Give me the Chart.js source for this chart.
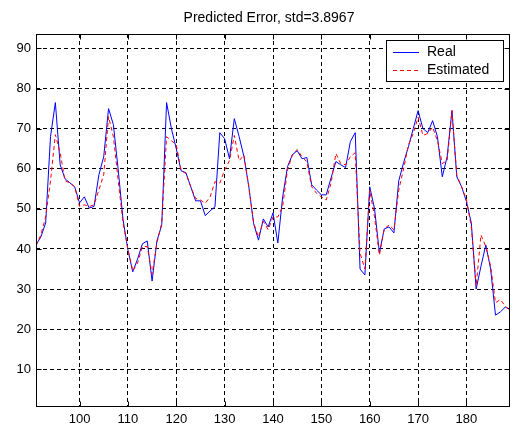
<!DOCTYPE html>
<html>
<head>
<meta charset="utf-8">
<script src="https://cdn.jsdelivr.net/npm/chart.js@4"></script>
<style>
html,body{margin:0;padding:0;background:#fff;}
canvas{display:block;}
</style>
</head>
<body>
<canvas id="c" width="516" height="426"></canvas>
<script>
const titleText = "Predicted Error, std=3.8967";
const seriesNames = ["Real", "Estimated"];
const xValues = [91,92,93,94,95,96,97,98,99,100,101,102,103,104,105,106,107,108,109,110,
111,112,113,114,115,116,117,118,119,120,121,122,123,124,125,126,127,128,129,130,
131,132,133,134,135,136,137,138,139,140,141,142,143,144,145,146,147,148,149,150,
151,152,153,154,155,156,157,158,159,160,161,162,163,164,165,166,167,168,169,170,
171,172,173,174,175,176,177,178,179,180,181,182,183,184,185,186,187,188,189];
const realValues = [41,43,46.5,68,76.5,61,57.5,56.5,55.5,51.5,53,50.2,50.6,58.5,63,75,71,59.7,47.3,39.8,
34.3,37.5,41.3,42,32,42,46,76.5,70,65,59.5,59,55.5,52,52,48.3,49.5,50.5,69,67.5,
62.5,72.5,68,63,55.5,46.3,42.2,47.5,45.5,49,41.5,53,60.5,63.5,64.5,62.5,62.8,56,54.7,53.5,
53.5,57.7,61.8,61,60.3,66.8,69,35,33.5,55.5,50,39,45,45.5,44,57,61.5,65.5,70,74.5,
70,69,72,68,58,63,74.5,58,55.5,51.8,46.5,30,35.7,41,35,23.5,24.3,25.5,25];
const estimatedValues = [40.8,43.5,48,57,68.5,64,57,56.5,55.5,50.6,51,50.6,51,54.7,58.5,73,68,57,46.5,40,
34.5,36.5,40.6,40.6,33.7,41.5,46.5,68,67,66,59.6,58.8,55.5,52.6,52.2,51.4,53,56.8,56.4,59.7,
62,68.3,62,63.4,55.5,46.5,43,46.9,44.8,48,48,50.6,59.7,63.4,64.8,63,61.7,55.5,53.9,53,
52.2,56.4,63.8,61.3,61,63,64,39,35,54.7,48,38.5,45,46,44.8,54.7,60,65.9,68.8,72.9,
68.3,68.8,70.4,67,61.3,62,74.5,58.4,55.5,52.2,45.6,30.7,43.5,40.6,35.7,26.6,27.4,25.8,24.5];
const xTicks = [100,110,120,130,140,150,160,170,180];
const yTicks = [10,20,30,40,50,60,70,80,90];
const xRange = [91, 189];
const yRange = [0.6, 93.6];

const FONT = "Liberation Sans, Arial, sans-serif";

const toPts = (ys) => xValues.map((x, i) => ({x: x, y: ys[i]}));

const matlabFrame = {
  id: 'matlabFrame',
  afterDraw(chart) {
    const ctx = chart.ctx;
    const a = chart.chartArea;
    const xs = chart.scales.x, ys = chart.scales.y;
    ctx.save();
    ctx.strokeStyle = '#000';
    ctx.lineWidth = 1;
    ctx.setLineDash([]);
    const L = Math.round(a.left) + 0.5, R = Math.round(a.right) - 0.5;
    const T = Math.round(a.top) + 0.5, B = Math.round(a.bottom) - 0.5;
    ctx.strokeRect(L, T, R - L, B - T);
    const tl = 5;
    ctx.beginPath();
    xTicks.forEach(v => {
      const px = Math.round(xs.getPixelForValue(v)) + 0.5;
      ctx.moveTo(px, B); ctx.lineTo(px, B - tl);
      ctx.moveTo(px, T); ctx.lineTo(px, T + tl);
    });
    yTicks.forEach(v => {
      const py = Math.round(ys.getPixelForValue(v)) + 0.5;
      ctx.moveTo(L, py); ctx.lineTo(L + tl, py);
      ctx.moveTo(R, py); ctx.lineTo(R - tl, py);
    });
    ctx.stroke();

    // title
    ctx.fillStyle = '#000';
    ctx.font = '14px ' + FONT;
    ctx.textAlign = 'center';
    ctx.textBaseline = 'middle';
    ctx.fillText(titleText, 269, 18.5);

    // legend
    const lx = 386, ly = 40, lw = 117, lh = 41;
    ctx.fillStyle = '#fff';
    ctx.fillRect(lx + 0.5, ly + 0.5, lw, lh);
    ctx.strokeStyle = '#000';
    ctx.strokeRect(lx + 0.5, ly + 0.5, lw, lh);
    const ds = chart.data.datasets;
    const rows = [52, 69.5];
    ds.forEach((d, i) => {
      const y = Math.round(rows[i]) + 0.5;
      ctx.strokeStyle = d.borderColor;
      ctx.lineWidth = 1;
      ctx.setLineDash(d.borderDash || []);
      ctx.beginPath();
      ctx.moveTo(393, y); ctx.lineTo(419, y);
      ctx.stroke();
      ctx.setLineDash([]);
      ctx.fillStyle = '#000';
      ctx.textAlign = 'left';
      ctx.textBaseline = 'middle';
      ctx.font = '14px ' + FONT;
      ctx.fillText(d.label, 427, rows[i] + 0.5);
    });
    ctx.restore();
  }
};

new Chart(document.getElementById('c'), {
  type: 'line',
  data: {
    datasets: [
      {label: seriesNames[0], data: toPts(realValues), borderColor: '#0000ff', borderWidth: 1,
       pointRadius: 0, tension: 0, fill: false, order: 2},
      {label: seriesNames[1], data: toPts(estimatedValues), borderColor: '#ff0000', borderWidth: 1,
       borderDash: [4, 3], pointRadius: 0, tension: 0, fill: false, order: 1}
    ]
  },
  options: {
    responsive: false,
    animation: false,
    devicePixelRatio: 1,
    layout: {padding: {left: 0, right: 6, top: 34, bottom: 0}},
    plugins: {legend: {display: false}, title: {display: false}, tooltip: {enabled: false}},
    scales: {
      x: {
        type: 'linear', min: xRange[0], max: xRange[1],
        afterBuildTicks: (s) => { s.ticks = xTicks.map(v => ({value: v})); },
        afterFit: (s) => { s.height = 19; },
        ticks: {color: '#000', font: {family: FONT, size: 13}, padding: 5, maxRotation: 0, autoSkip: false},
        grid: {color: '#000', lineWidth: 1, drawTicks: false},
        border: {display: false, dash: [4, 3]}
      },
      y: {
        type: 'linear', min: yRange[0], max: yRange[1],
        afterBuildTicks: (s) => { s.ticks = yTicks.map(v => ({value: v})); },
        afterFit: (s) => { s.width = 36; },
        ticks: {color: '#000', font: {family: FONT, size: 13}, padding: 5, autoSkip: false},
        grid: {color: '#000', lineWidth: 1, drawTicks: false},
        border: {display: false, dash: [4, 3]}
      }
    }
  },
  plugins: [matlabFrame]
});
</script>
</body>
</html>
